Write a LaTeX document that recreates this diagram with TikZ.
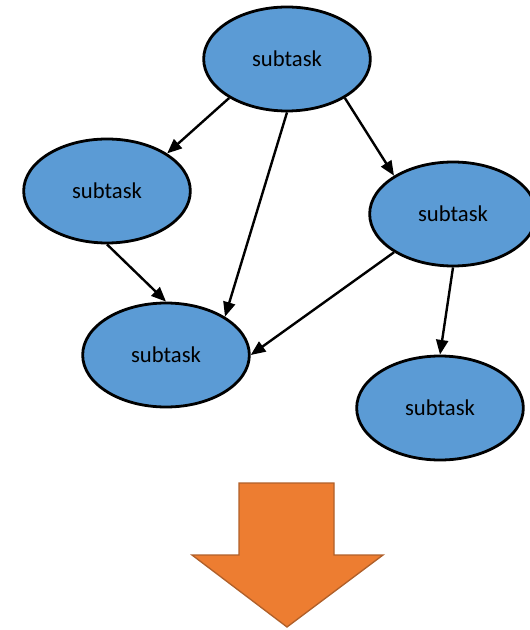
\documentclass[tikz,border=0pt]{standalone}
\usepackage{fontspec}
\setmainfont{Carlito}
\usetikzlibrary{shapes.geometric, arrows.meta}
\definecolor{taskblue}{HTML}{5B9BD5}
\definecolor{arroworange}{HTML}{ED7D31}
\definecolor{arrowedge}{HTML}{B0602A}
\tikzset{
  subtask/.style={ellipse, draw=black, line width=2.1pt, fill=taskblue,
    minimum width=125pt, minimum height=78pt, inner sep=0pt,
    font=\fontsize{17}{20}\selectfont},
  dep/.style={line width=1.8pt, -{Triangle[length=11pt,width=9pt]}}
}
\begin{document}
\begin{tikzpicture}[x=0.75pt, y=-0.75pt]
        \useasboundingbox (0,0) rectangle (529,630);
        \node[subtask] (t) at (287,59) {subtask};
        \node[subtask] (l) at (107,191) {subtask};
        \node[subtask] (r) at (453,214) {subtask};
        \node[subtask] (m) at (166,355) {subtask};
        \node[subtask] (b) at (440,408) {subtask};
        % dependencies
        \draw[dep] (t.214) -- (l.32);
        \draw[dep] (t.south) -- (m.33);
        \draw[dep] (t.326) -- (r.147);
        \draw[dep] (l.south) -- (m.north);
        \draw[dep] (r.213) -- (m.east);
        \draw[dep] (r.south) -- (b.north);
        % big arrow
        \draw[fill=arroworange, draw=arrowedge, line width=1pt, line join=miter]
          (239,483) -- (334,483) -- (334,555) -- (383,555) -- (287,627)
          -- (192,555) -- (239,555) -- cycle;
\end{tikzpicture}
\end{document}
